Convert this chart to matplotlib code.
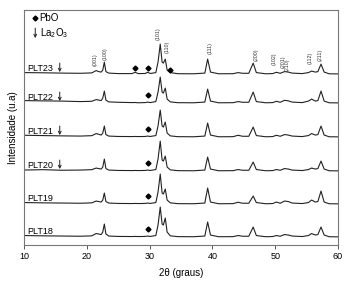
import matplotlib
matplotlib.use('Agg')
import matplotlib.pyplot as plt

plt.rcParams['font.family'] = ['Liberation Sans', 'DejaVu Sans']
plt.rcParams['mathtext.fontset'] = 'custom'
plt.rcParams['mathtext.rm'] = 'Liberation Sans'
plt.rcParams['mathtext.it'] = 'Liberation Sans'

# 2theta points
two_theta = [10, 13, 16, 19, 20.8, 21.5, 21.9, 22.3, 22.55, 22.8,
             23.05, 23.5, 25, 27.2, 27.7, 28.2, 29.3, 29.7, 30.1, 31.0,
             31.35, 31.7, 32.0, 32.2, 32.5, 32.8, 33.3, 34.5, 37, 38.8,
             39.25, 39.7, 41, 43.3, 44.1, 44.8, 45.8, 46.5, 47.0, 48.5,
             49.6, 50.2, 50.8, 51.5, 52.1, 52.7, 54.3, 55.3, 55.8, 56.4,
             56.8, 57.3, 57.8, 58.6, 60]

samples = ['PLT18', 'PLT19', 'PLT20', 'PLT21', 'PLT22', 'PLT23']
offsets = [8, 41, 74, 108, 142, 171]

plt18 = [1.5, 1.2, 1.0, 0.8, 1.2, 3.5, 3.0, 2.5, 5, 13,
         3, 1.0, 0.6, 0.5, 0.6, 0.5, 0.6, 1.0, 0.6, 1.5,
         12, 30, 13, 12, 19, 5, 1.2, 0.4, 0.3, 1.0,
         15, 2, 0.3, 0.4, 1.5, 0.8, 0.8, 10, 1.5, 0.3,
         0.5, 1.5, 0.8, 2.5, 2.0, 1.0, 0.5, 1.5, 3.5, 2.0,
         2.5, 10, 2.0, 0.3, 0.2]
plt19 = [1.5, 1.2, 1.0, 0.8, 1.2, 3.0, 2.5, 2.0, 4, 11,
         2.5, 1.0, 0.6, 0.5, 0.6, 0.5, 0.6, 1.0, 0.6, 1.5,
         12, 30, 11, 10, 15, 4, 1.2, 0.4, 0.3, 1.0,
         16, 2, 0.3, 0.4, 1.8, 0.8, 0.8, 8, 1.5, 0.3,
         0.5, 2.0, 0.8, 3.0, 2.5, 1.0, 0.5, 1.5, 4.0, 2.0,
         2.5, 13, 2.0, 0.3, 0.2]
plt20 = [1.0, 1.4, 0.8, 1.0, 1.4, 3.0, 2.5, 2.0, 4, 12,
         2.5, 1.0, 0.6, 0.5, 0.6, 0.5, 0.6, 1.0, 0.6, 1.5,
         12, 30, 11, 10, 15, 4, 1.2, 0.4, 0.3, 1.0,
         14, 2, 0.3, 0.4, 1.5, 0.8, 0.8, 9, 1.5, 0.3,
         0.5, 1.5, 0.8, 2.5, 2.0, 1.0, 0.5, 1.5, 3.0, 2.0,
         2.5, 10, 2.0, 0.3, 0.2]
plt21 = [1.8, 1.5, 1.2, 1.0, 1.4, 3.5, 2.8, 2.0, 4, 11,
         2.5, 1.0, 0.6, 0.5, 0.6, 0.5, 0.6, 1.0, 0.6, 1.5,
         11, 27, 11, 10, 15, 4, 1.2, 0.4, 0.3, 1.0,
         14, 2, 0.3, 0.4, 1.8, 0.8, 0.8, 10, 1.5, 0.3,
         0.5, 1.8, 0.8, 2.5, 2.0, 1.0, 0.5, 1.5, 3.5, 2.0,
         2.5, 11, 2.0, 0.3, 0.2]
plt22 = [2.5, 2.2, 2.0, 1.5, 1.8, 3.5, 3.0, 2.5, 5, 12,
         3, 1.2, 0.8, 0.5, 0.6, 0.3, 0.5, 1.0, 0.5, 1.5,
         11, 26, 11, 10, 15, 4, 1.2, 0.4, 0.3, 1.0,
         14, 2, 0.3, 0.4, 1.5, 0.8, 0.8, 11, 1.5, 0.3,
         0.5, 1.8, 0.8, 2.8, 2.2, 1.0, 0.5, 2.0, 4.0, 2.0,
         2.5, 12, 2.0, 0.3, 0.2]
plt23 = [1.5, 1.3, 1.0, 0.8, 1.2, 3.5, 2.5, 2.0, 4, 12,
         2.5, 1.0, 0.5, 0.5, 1.8, 0.5, 0.6, 1.8, 0.6, 1.5,
         12, 30, 12, 11, 15, 4, 1.5, 0.4, 0.3, 1.0,
         15, 2, 0.3, 0.4, 1.5, 0.8, 0.8, 11, 1.5, 0.3,
         0.5, 1.8, 0.8, 2.5, 2.0, 1.0, 0.5, 1.5, 3.0, 2.0,
         2.5, 10, 2.0, 0.3, 0.2]
patterns = [plt18, plt19, plt20, plt21, plt22, plt23]

# markers
pbo_peaks = [29.7]
pbo_peaks_plt23 = [27.7, 29.7, 33.3]
la2o3_pos = 15.7
arrow_samples = ['PLT20', 'PLT21', 'PLT22', 'PLT23']

hkl_labels = ['(001)', '(100)', '(101)', '(110)', '(111)', '(200)',
              '(102)', '(201)', '(210)', '(112)', '(211)']
hkl_pos = [21.4, 23.0, 31.4, 32.8, 39.6, 46.9, 49.8, 51.3, 51.9, 55.5, 57.1]
hkl_y = [185, 191, 211, 198, 197, 190, 186, 183, 180, 187, 190]

arrow_style = dict(arrowstyle='->', lw=0.7, color='#222222',
                   shrinkA=0, shrinkB=0, mutation_scale=5)

fig = plt.figure(figsize=(3.47, 2.81), dpi=100)
ax = fig.add_axes([0.069, 0.128, 0.905, 0.836])

for name, y, off in zip(samples, patterns, offsets):
    ax.plot(two_theta, [v + off for v in y], color='#222222', lw=0.8)
    ax.text(10.6, off + 6, name, fontsize=6.5, va='center', ha='left')
    if name in arrow_samples:
        ax.annotate('', xy=(la2o3_pos, off + 2), xytext=(la2o3_pos, off + 11),
                    arrowprops=arrow_style)
    peaks = pbo_peaks_plt23 if name == 'PLT23' else pbo_peaks
    for p in peaks:
        dy = 4 if p == 33.3 else (6 if name == 'PLT23' else 8)
        ax.plot(p, off + dy, marker='D', color='black', markersize=2.5)

for lab, x, y in zip(hkl_labels, hkl_pos, hkl_y):
    ax.text(x, y, lab, rotation=90, fontsize=3.8, ha='center', va='center',
            color='#333333')

# legend
ax.plot(11.8, 227, marker='D', color='black', markersize=2.5)
ax.text(12.5, 227, 'PbO', fontsize=7, va='center', ha='left')
ax.annotate('', xy=(11.8, 207), xytext=(11.8, 217), arrowprops=arrow_style)
ax.text(12.6, 212, 'La$_2$O$_3$', fontsize=7, va='center', ha='left')

ax.set_xlim(10, 60)
ax.set_ylim(0, 235)
ax.set_xticks([10, 20, 30, 40, 50, 60])
ax.set_yticks([])
ax.tick_params(axis='x', labelsize=6.5, length=3, width=0.7, color='#555555', pad=2)
for s in ax.spines.values():
    s.set_color('#777777')
    s.set_linewidth(0.8)
ax.set_xlabel('2\u03b8 (graus)', fontsize=7, labelpad=5)
ax.set_ylabel('Intensidade (u.a)', fontsize=7, labelpad=4)

fig.savefig('out.png', dpi=100)
